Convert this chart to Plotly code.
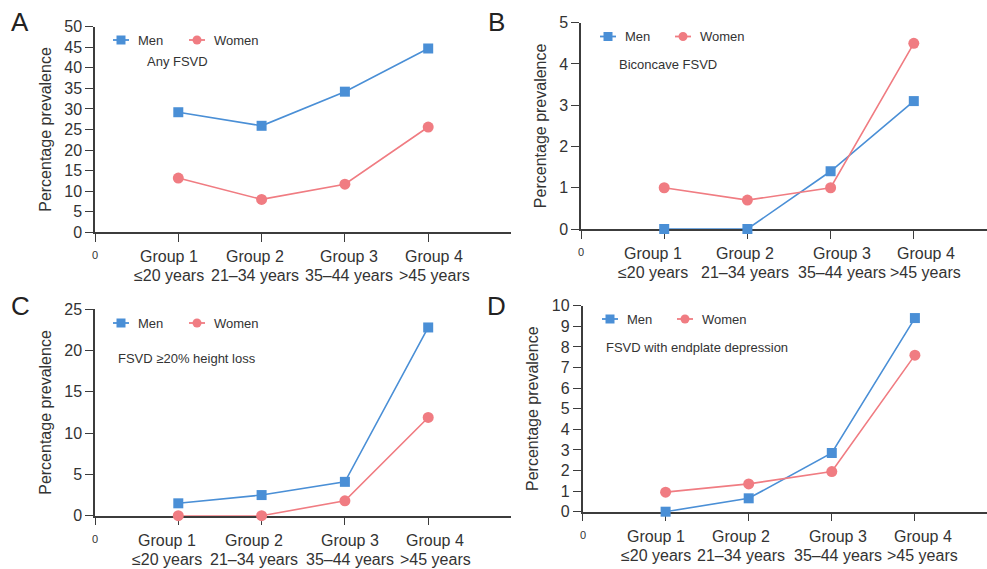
import plotly.graph_objects as go

W, H = 987, 569

# Age groups on the x axis
group_pos = [1, 2, 3, 4]
group_names = ["Group 1", "Group 2", "Group 3", "Group 4"]
group_ages = ["≤20 years", "21–34 years", "35–44 years", "&gt;45 years"]

# Percentage prevalence by age group
any_men = [29.2, 25.9, 34.2, 44.7]
any_women = [13.2, 8.0, 11.7, 25.6]
biconcave_men = [0.0, 0.0, 1.4, 3.1]
biconcave_women = [1.0, 0.7, 1.0, 4.5]
heightloss_men = [1.5, 2.5, 4.1, 22.8]
heightloss_women = [0.0, 0.0, 1.8, 11.9]
endplate_men = [0.0, 0.65, 2.85, 9.4]
endplate_women = [0.95, 1.35, 1.95, 7.6]

panel_letters = ["A", "B", "C", "D"]
panel_notes = ["Any FSVD", "Biconcave FSVD", "FSVD ≥20% height loss",
               "FSVD with endplate depression"]
y_max = [50, 5, 25, 10]
y_step = [5, 1, 5, 1]

MEN_COLOR = "#4a8fd6"
WOMEN_COLOR = "#f07c82"
AXIS_COLOR = "#3c3c3c"
TEXT_COLOR = "#333333"
FONT = "Liberation Sans, Arial, sans-serif"

# Panel geometry in pixels: x of y-axis, x right end, px per group,
# y pixel of value 0, y pixel of the top value
geom = [
    dict(x0=95, x1=511, unit=83.3, ybot=232.3, ytop=26.7),
    dict(x0=581, x1=987, unit=83.2, ybot=229.0, ytop=22.7),
    dict(x0=95, x1=511, unit=83.3, ybot=515.7, ytop=309.3),
    dict(x0=582.5, x1=987, unit=83.1, ybot=511.7, ytop=305.7),
]
# Group labels are spread slightly wider than the ticks (pixel offsets)
label_shift_px = [
    [-9, -7, 4, 6],
    [-11, -2, 11, 12],
    [-11, -8, 5, 7],
    [-10, -7.5, 5.7, 7.6],
]
LINE1_DROP = 24.5   # first label line below the axis, px
LINE2_DROP = 43.5   # second label line below the axis, px

# Positions of the panel letters, notes and legend entries (pixels)
letter_xy = [(20, 22), (497, 22), (20, 306), (497, 306)]
note_xy = [(145, 62), (617, 65), (116, 358), (604, 347)]
legend_y = [40, 36.5, 323, 319]
legend_men_x = [121, 608, 121, 610]
legend_women_x = [197, 683, 197, 685]

series = [
    (any_men, any_women),
    (biconcave_men, biconcave_women),
    (heightloss_men, heightloss_women),
    (endplate_men, endplate_women),
]


def px(x):
    return x / W


def py(y):
    return 1 - y / H


fig = go.Figure()
layout = dict(
    width=W, height=H,
    margin=dict(l=0, r=0, t=0, b=0),
    paper_bgcolor="white", plot_bgcolor="white",
    showlegend=False,
    font=dict(family=FONT, color=TEXT_COLOR, size=16),
)
annotations = []
shapes = []

for i in range(4):
    n = i + 1
    g = geom[i]
    xa = "x" if n == 1 else f"x{n}"
    ya = "y" if n == 1 else f"y{n}"
    men, women = series[i]

    fig.add_trace(go.Scatter(
        x=group_pos, y=men, mode="lines+markers", name="Men",
        line=dict(color=MEN_COLOR, width=1.6),
        marker=dict(symbol="square", size=10, color=MEN_COLOR),
        cliponaxis=False, xaxis=xa, yaxis=ya,
    ))
    fig.add_trace(go.Scatter(
        x=group_pos, y=women, mode="lines+markers", name="Women",
        line=dict(color=WOMEN_COLOR, width=1.6),
        marker=dict(symbol="circle", size=11, color=WOMEN_COLOR),
        cliponaxis=False, xaxis=xa, yaxis=ya,
    ))

    xkey = "xaxis" if n == 1 else f"xaxis{n}"
    ykey = "yaxis" if n == 1 else f"yaxis{n}"
    layout[xkey] = dict(
        domain=[px(g["x0"]), px(g["x1"])],
        range=[0, (g["x1"] - g["x0"]) / g["unit"]],
        anchor=ya, automargin=False,
        tickmode="array", tickvals=[0] + group_pos,
        showticklabels=False,
        ticks="outside", ticklen=8, tickwidth=1.3, tickcolor=AXIS_COLOR,
        showline=True, linecolor=AXIS_COLOR, linewidth=1.5,
        showgrid=False, zeroline=False, fixedrange=True,
        layer="below traces",
    )
    layout[ykey] = dict(
        domain=[py(g["ybot"]), py(g["ytop"])],
        range=[0, y_max[i]],
        dtick=y_step[i], tick0=0,
        anchor=xa, automargin=False,
        ticks="outside", ticklen=8, tickwidth=1.3, tickcolor=AXIS_COLOR,
        showline=True, linecolor=AXIS_COLOR, linewidth=1.5,
        showgrid=False, zeroline=False, fixedrange=True,
        tickfont=dict(size=16, color=TEXT_COLOR),
        title=dict(text="Percentage prevalence", font=dict(size=16, color=TEXT_COLOR),
                   standoff=9),
        layer="below traces",
    )

    # Category labels under the x axis, placed on the axis scale
    annotations.append(dict(
        text="0", xref=xa, x=0, yref="paper", y=py(g["ybot"]),
        yanchor="middle", yshift=-23, showarrow=False,
        font=dict(size=11, color=TEXT_COLOR),
    ))
    for p, s, name, age in zip(group_pos, label_shift_px[i], group_names, group_ages):
        for txt, drop in [(name, LINE1_DROP), (age, LINE2_DROP)]:
            annotations.append(dict(
                text=txt, xref=xa, x=p + s / g["unit"], yref="paper", y=py(g["ybot"]),
                yanchor="middle", yshift=-drop, showarrow=False,
                font=dict(size=16, color=TEXT_COLOR),
            ))

    # Panel letter
    lx, ly = letter_xy[i]
    annotations.append(dict(
        text=panel_letters[i], x=px(lx), y=py(ly), xref="paper", yref="paper",
        showarrow=False, font=dict(size=26, color="#222222"),
        xanchor="center", yanchor="middle",
    ))
    # Panel note
    nx, ny = note_xy[i]
    annotations.append(dict(
        text=panel_notes[i], x=px(nx), y=py(ny), xref="paper", yref="paper",
        showarrow=False, font=dict(size=13, color=TEXT_COLOR),
        xanchor="left", yanchor="middle",
    ))

    # Legend entries: short line, marker glyph, label
    ly_ = legend_y[i]
    for cx, color, label, sym in [
        (legend_men_x[i], MEN_COLOR, "Men", "rect"),
        (legend_women_x[i], WOMEN_COLOR, "Women", "circle"),
    ]:
        shapes.append(dict(
            type="line", xref="paper", yref="paper",
            x0=px(cx - 8), x1=px(cx + 8), y0=py(ly_), y1=py(ly_),
            line=dict(color=color, width=1.8),
        ))
        r = 4.5
        shapes.append(dict(
            type=sym, xref="paper", yref="paper",
            x0=px(cx - r), x1=px(cx + r), y0=py(ly_ + r), y1=py(ly_ - r),
            fillcolor=color, line=dict(color=color, width=0),
        ))
        annotations.append(dict(
            text=label, x=px(cx + 15), y=py(ly_), xref="paper", yref="paper",
            showarrow=False, font=dict(size=13, color=TEXT_COLOR),
            xanchor="left", yanchor="middle",
        ))

layout["annotations"] = annotations
layout["shapes"] = shapes
fig.update_layout(**layout)
fig.write_html("out.html")
